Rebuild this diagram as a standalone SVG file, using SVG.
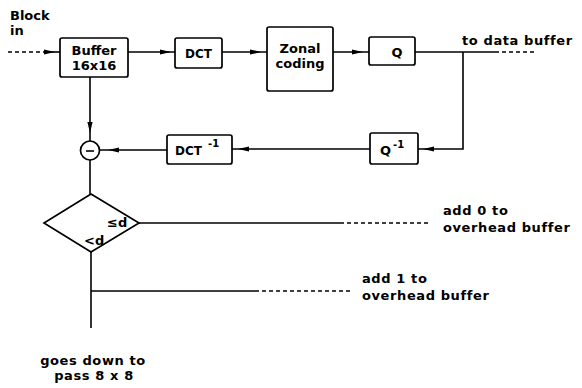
<svg xmlns="http://www.w3.org/2000/svg" xmlns:xlink="http://www.w3.org/1999/xlink" width="582" height="388" viewBox="0 0 582 388">
<style>
text{font-family:"DejaVu Sans","Liberation Sans",sans-serif;font-weight:bold;font-size:13px;fill:#000}
.c{text-anchor:middle}
.sp{letter-spacing:0.6px}
.sup{font-size:10px}
.box{fill:#fff;stroke:#000;stroke-width:1.7}
.ln{fill:none;stroke:#000;stroke-width:1.6}
.ds{fill:none;stroke:#000;stroke-width:1.5;stroke-dasharray:4 3}
</style>
<defs>
<path id="ah" d="M0,0 L-11,-2.6 L-11,2.6 Z" fill="#000"/>
</defs>
<g id="connectors">
<path class="ds" d="M8,52 H44"/>
<path class="ln" d="M44,52 H60"/>
<path class="ln" d="M128,52 H175"/>
<path class="ln" d="M222,52 H267"/>
<path class="ln" d="M333,52 H369"/>
<path class="ln" d="M415,52 H495"/>
<path class="ds" d="M495,52 H537"/>
<path class="ln" d="M463,52 V149 H418"/>
<path class="ln" d="M370,149 H232"/>
<path class="ln" d="M167,150 H100"/>
<path class="ln" d="M90,77 V141"/>
<path class="ln" d="M90,160 V194"/>
<path class="ln" d="M139,223 H340"/>
<path class="ds" d="M340,223 H428"/>
<path class="ln" d="M91,252 V328"/>
<path class="ln" d="M91,291 H255"/>
<path class="ds" d="M255,291 H350"/>
<use xlink:href="#ah" transform="translate(55,52)"/>
<use xlink:href="#ah" transform="translate(171,52)"/>
<use xlink:href="#ah" transform="translate(261,52)"/>
<use xlink:href="#ah" transform="translate(363,52)"/>
<use xlink:href="#ah" transform="translate(423,149) rotate(180)"/>
<use xlink:href="#ah" transform="translate(238,149) rotate(180)"/>
<use xlink:href="#ah" transform="translate(108,150) rotate(180)"/>
<use xlink:href="#ah" transform="translate(90,133) rotate(90)"/>
</g>
<g id="input-label">
<text x="10" y="20">Block</text>
<text x="10" y="35">in</text>
</g>
<g id="buffer">
<rect class="box" x="60" y="38" width="68" height="39" rx="2"/>
<text class="c" x="94" y="55">Buffer</text>
<text class="c" x="94" y="70">16x16</text>
</g>
<g id="dct">
<rect class="box" x="175" y="38" width="47" height="30" rx="2"/>
<text class="c" x="198.5" y="58" style="font-size:12px">DCT</text>
</g>
<g id="zonal">
<rect class="box" x="267" y="27" width="66" height="64" rx="2"/>
<text class="c" x="300" y="53">Zonal</text>
<text class="c" x="300" y="68">coding</text>
</g>
<g id="q">
<rect class="box" x="369" y="37" width="46" height="28" rx="2"/>
<text class="c" x="397" y="57">Q</text>
</g>
<g id="out-label">
<text class="sp" x="462" y="45">to data buffer</text>
</g>
<g id="qinv">
<rect class="box" x="370" y="133" width="48" height="31" rx="2"/>
<text x="380" y="155">Q</text>
<text class="sup" x="393" y="148">-1</text>
</g>
<g id="dctinv">
<rect class="box" x="167" y="135" width="65" height="29" rx="2"/>
<text x="175" y="155" style="font-size:12px">DCT</text>
<text class="sup" x="208" y="147">-1</text>
</g>
<g id="subtract">
<circle class="box" cx="90" cy="150.5" r="9.5"/>
<path class="ln" d="M86,151 H94"/>
</g>
<g id="decision">
<path class="box" d="M91,194 L139,223 L91,252 L44,223 Z"/>
<text x="107" y="227">≤d</text>
<text x="84" y="245">&lt;d</text>
</g>
<g id="add0">
<text class="sp" x="443" y="215">add 0 to</text>
<text class="sp" x="443" y="232">overhead buffer</text>
</g>
<g id="add1">
<text class="sp" x="362" y="283">add 1 to</text>
<text class="sp" x="362" y="300">overhead buffer</text>
</g>
<g id="down-label">
<text class="c sp" x="93" y="365">goes down to</text>
<text class="c sp" x="94" y="380">pass 8 x 8</text>
</g>
</svg>
